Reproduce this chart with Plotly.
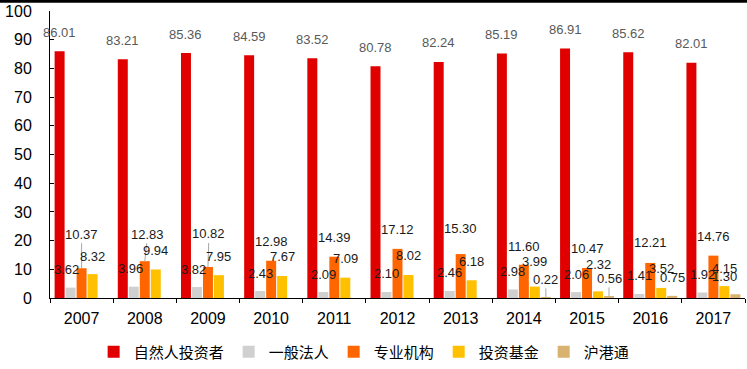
import plotly.graph_objects as go

years = ["2007", "2008", "2009", "2010", "2011", "2012", "2013", "2014", "2015", "2016", "2017"]
series_names = ["自然人投资者", "一般法人", "专业机构", "投资基金", "沪港通"]
natural = [86.01, 83.21, 85.36, 84.59, 83.52, 80.78, 82.24, 85.19, 86.91, 85.62, 82.01]
corporate = [3.62, 3.96, 3.82, 2.43, 2.09, 2.10, 2.46, 2.98, 2.06, 1.41, 1.92]
institution = [10.37, 12.83, 10.82, 12.98, 14.39, 17.12, 15.30, 11.60, 10.47, 12.21, 14.76]
funds = [8.32, 9.94, 7.95, 7.67, 7.09, 8.02, 6.18, 3.99, 2.32, 3.52, 4.15]
hk_connect = [None, None, None, None, None, None, None, 0.22, 0.56, 0.75, 1.30]

series_values = [natural, corporate, institution, funds, hk_connect]
colors = ["#E00000", "#D0D0D0", "#FF6600", "#FFC000", "#D9B26F"]

# label styling: pixel raise above bar top, horizontal shift, leader line flag
raise_px = [
    [19] * 11,
    [18] * 11,
    [34, 27, 33, 19, 19, 19, 26, 18, 19, 20, 19],
    [18, 19, 19, 19, 19, 19, 19, 25, 27, 19, 18],
    [18] * 11,
]
shift_px = [
    [0] * 11,
    [-4, -3, -3, 0, 0, 0, 0, 0, 0, 0, 0],
    [0, 3, 1, 0, 0, 0, 0, 0, 0, 0, 0],
    [0] * 11,
    [0, 0, 0, 0, 0, 0, 0, 0, 0, 0, -11],
]
leader = [
    [False] * 11,
    [False] * 11,
    [True, True, True, False, False, False, False, False, False, False, False],
    [False] * 11,
    [False, False, False, False, False, False, False, True, True, False, False],
]

slot = 0.174
bar_w = 0.158
xs = list(range(len(years)))

fig = go.Figure()
for k, (name, vals, col) in enumerate(zip(series_names, series_values, colors)):
    center = (k - 2) * slot
    fig.add_trace(go.Bar(
        x=xs, y=vals, name=name,
        marker=dict(color=col, line=dict(width=0)),
        width=bar_w, offset=center - bar_w / 2,
    ))
    for i, v in enumerate(vals):
        if v is None:
            continue
        fig.add_annotation(
            x=i + center, y=v, text=f"{v:.2f}",
            showarrow=True, arrowhead=0, arrowwidth=1, standoff=0,
            arrowcolor="#A6A6A6" if leader[k][i] else "rgba(0,0,0,0)",
            ax=shift_px[k][i], ay=-raise_px[k][i],
            font=dict(family="Liberation Sans, Arial, sans-serif", size=13,
                      color="#595959" if k == 0 else "#1A1A1A"),
        )

fig.update_layout(
    width=747, height=369,
    margin=dict(l=50, r=2, t=11, b=71, autoexpand=False),
    paper_bgcolor="white", plot_bgcolor="white",
    barmode="overlay",
    font=dict(family="Liberation Sans, Arial, sans-serif", color="black"),
    showlegend=True,
    legend=dict(orientation="h", x=0.452, xanchor="center", y=-0.188, yanchor="middle",
                font=dict(family="Noto Sans CJK SC", size=15, color="black"),
                itemwidth=30, tracegroupgap=0),
    xaxis=dict(range=[-0.5, 10.5], tickmode="array", tickvals=xs, ticktext=years,
               ticks="", showline=True, linecolor="black", linewidth=1,
               showgrid=False, zeroline=False, ticklabelstandoff=6, automargin=False,
               tickfont=dict(size=16, color="black"),
               minor=dict(tickmode="array", tickvals=[i - 0.5 for i in range(len(years) + 1)],
                          ticks="outside", ticklen=4, tickcolor="black", tickwidth=1,
                          showgrid=False)),
    yaxis=dict(range=[0, 100], dtick=10, ticks="inside", ticklen=4, tickcolor="black",
               showline=True, linecolor="black", linewidth=1, showgrid=False,
               zeroline=False, ticklabelstandoff=14, automargin=False,
               tickfont=dict(size=16, color="black")),
)

# top rule across the whole figure
fig.add_shape(type="line", xref="paper", yref="paper",
              x0=-0.072, x1=1.003, y0=1.032, y1=1.032,
              line=dict(color="black", width=2))
# same rule as a thin filled annotation box (fallback rendering)
fig.add_annotation(xref="paper", yref="paper", x=(373.5 - 50) / 695, y=1 + 9.5 / 287,
                   xanchor="center", yanchor="middle", text=" ", showarrow=False,
                   width=747, height=2, bgcolor="black", borderpad=0, borderwidth=0,
                   font=dict(size=1))

fig.write_html("out.html", config={"displayModeBar": False},
               post_script="document.body.style.margin='0';")
